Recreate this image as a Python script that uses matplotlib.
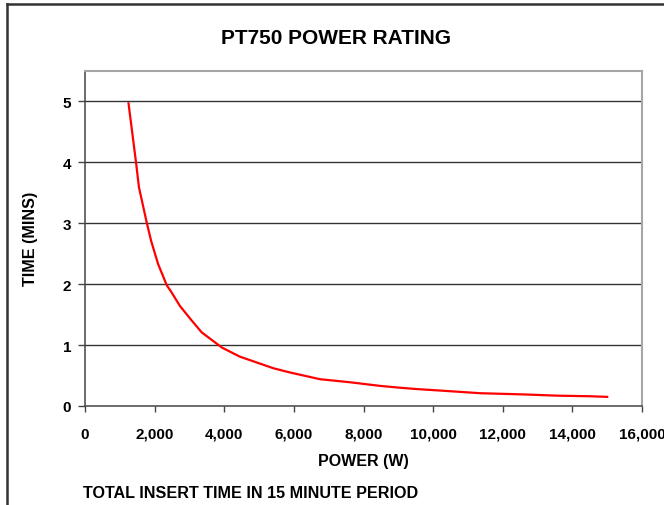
import matplotlib
matplotlib.use("Agg")
import matplotlib.pyplot as plt
from matplotlib.lines import Line2D

# Data
power_w = [1250, 1470, 1550, 1770, 1900, 2100, 2350, 2460, 2730, 3070, 3350,
           3930, 4450, 5410, 5890, 6750, 7610, 8480, 9050, 9480, 10300,
           11350, 12600, 13550, 14510, 15000]
time_mins = [4.97, 3.98, 3.59, 3.02, 2.71, 2.33, 1.98, 1.89, 1.64, 1.40, 1.21,
             0.96, 0.81, 0.62, 0.55, 0.44, 0.39, 0.33, 0.30, 0.28, 0.25,
             0.21, 0.19, 0.17, 0.16, 0.15]

x_ticks = [0, 2000, 4000, 6000, 8000, 10000, 12000, 14000, 16000]
x_tick_labels = ["0", "2,000", "4,000", "6,000", "8,000", "10,000", "12,000",
                 "14,000", "16,000"]
y_ticks = [0, 1, 2, 3, 4, 5]

title = "PT750 POWER RATING"
x_label = "POWER (W)"
y_label = "TIME (MINS)"
footnote = "TOTAL INSERT TIME IN 15 MINUTE PERIOD"

plt.rcParams['font.family'] = ['Liberation Sans', 'DejaVu Sans']
plt.rcParams['font.weight'] = 'bold'

W, H = 664, 506
fig = plt.figure(figsize=(W / 100, H / 100), dpi=100)
fig.patch.set_facecolor('white')

# Axes in pixel coordinates: left 85, right 642, top 72, bottom 407
ax = fig.add_axes([85 / W, 1 - 407 / H, (642 - 85) / W, (407 - 72) / H])
ax.plot(power_w, time_mins, color='#ff0000', lw=1.6, solid_joinstyle='round')

ax.set_xlim(0, 16000)
ax.set_ylim(0, 5.5)
ax.set_xticks(x_ticks)
ax.set_xticklabels(x_tick_labels)
ax.set_yticks(y_ticks)
ax.set_yticklabels([str(v) for v in y_ticks])

for v in y_ticks[1:]:
    ax.axhline(v, color='#333333', lw=1.0, zorder=0.5)

for s in ['left', 'bottom']:
    ax.spines[s].set_color('#444444')
    ax.spines[s].set_linewidth(1.1)
for s in ['top', 'right']:
    ax.spines[s].set_color('#a6a6a6')
    ax.spines[s].set_linewidth(1.5)

ax.tick_params(axis='x', direction='out', length=4, width=1, color='#444444',
               pad=11, labelsize=11)
ax.tick_params(axis='y', direction='out', length=5, width=1, color='#444444',
               pad=5, labelsize=11)
for lab in ax.get_xticklabels() + ax.get_yticklabels():
    lab.set_fontweight('bold')

fig.text(336 / W, 1 - 39 / H, title, ha='center', va='center',
         fontsize=15, fontweight='bold')
fig.text(363 / W, 1 - 462 / H, x_label, ha='center', va='center',
         fontsize=11.5, fontweight='bold')
fig.text(30 / W, 1 - 239 / H, y_label, ha='center', va='center',
         rotation=90, fontsize=11.6, fontweight='bold')
fig.text(83 / W, 1 - 494 / H, footnote, ha='left', va='center',
         fontsize=11.6, fontweight='bold')

# Chart-area border (left and top visible)
fig.add_artist(Line2D([7 / W, 7 / W], [0, 1 - 5 / H], transform=fig.transFigure,
                      color='#333333', lw=1.8))
fig.add_artist(Line2D([7 / W, 1.0], [1 - 5 / H, 1 - 5 / H], transform=fig.transFigure,
                      color='#333333', lw=1.8))

fig.savefig('out.png', dpi=100)
